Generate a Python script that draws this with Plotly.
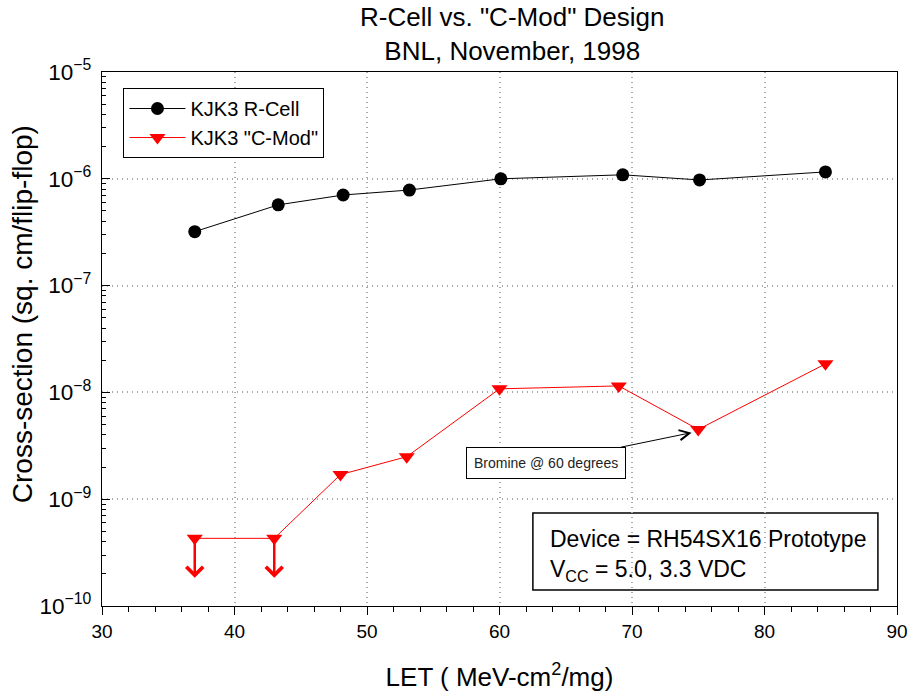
import numpy as np
import plotly.graph_objects as go

# Data
let_rcell = [37, 43.3, 48.2, 53.2, 60.1, 69.3, 75.1, 84.6]
xs_rcell = [3.2e-7, 5.7e-7, 7.05e-7, 7.85e-7, 1.0e-6, 1.09e-6, 9.75e-7, 1.16e-6]

let_cmod = [37, 43, 48, 53, 60, 69, 75, 84.6]
xs_cmod = [4.3e-10, 4.3e-10, 1.7e-9, 2.5e-9, 1.08e-8, 1.15e-8, 4.5e-9, 1.85e-8]

upper_limit_idx = [0, 1]   # C-Mod points that are upper limits
bromine_idx = 6            # Bromine @ 60 degrees point

x_ticks = [30, 40, 50, 60, 70, 80, 90]

FONT = "Liberation Sans, Arial, sans-serif"

fig = go.Figure()
fig.add_trace(go.Scatter(
    x=let_rcell, y=xs_rcell, mode="lines+markers", name="KJK3 R-Cell",
    line=dict(color="black", width=1),
    marker=dict(symbol="circle", size=13, color="black"),
))
fig.add_trace(go.Scatter(
    x=let_cmod, y=xs_cmod, mode="lines+markers", name='KJK3 "C-Mod"',
    line=dict(color="red", width=1),
    marker=dict(symbol="triangle-down", size=14, color="red"),
))

annotations = []
for i in upper_limit_idx:
    v = np.log10(xs_cmod[i])
    annotations.append(dict(
        x=let_cmod[i], y=v - 0.37, ax=let_cmod[i], ay=v,
        xref="x", yref="y", axref="x", ayref="y",
        text="", showarrow=True, arrowhead=4, arrowsize=1.3,
        arrowwidth=2.5, arrowcolor="red",
    ))

annotations.append(dict(
    x=let_cmod[bromine_idx] - 0.5, y=np.log10(xs_cmod[bromine_idx]) - 0.03,
    xref="x", yref="y", ax=-146, ay=30,
    text="Bromine @ 60 degrees", showarrow=True, arrowhead=5, arrowsize=2,
    arrowwidth=1, arrowcolor="black",
    font=dict(family=FONT, size=14, color="#222"),
    bordercolor="black", borderwidth=1, borderpad=7, bgcolor="white",
))

# Title as annotation (two lines)
annotations.append(dict(
    x=0.516, y=1.071, xref="paper", yref="paper", xanchor="center", yanchor="middle",
    text='R-Cell vs. "C-Mod" Design<br>BNL, November, 1998', showarrow=False,
    font=dict(family=FONT, size=26, color="black"),
))

# Y axis title as annotation
annotations.append(dict(
    x=-0.099, y=0.547, xref="paper", yref="paper", xanchor="center", yanchor="middle",
    text="Cross-section (sq. cm/flip-flop)", showarrow=False, textangle=-90,
    font=dict(family=FONT, size=28, color="black"),
))

# Device info box text
annotations.append(dict(
    x=0.561, y=0.0955, xref="paper", yref="paper", xanchor="left", yanchor="middle",
    text="Device = RH54SX16 Prototype<br>V<sub>CC</sub> = 5.0, 3.3 VDC",
    showarrow=False, align="left",
    font=dict(family=FONT, size=23, color="black"),
))

fig.add_shape(type="rect", xref="paper", yref="paper",
              x0=0.542, x1=0.976, y0=0.030, y1=0.174,
              line=dict(color="black", width=1.5), fillcolor="white", layer="below")

fig.update_layout(
    width=910, height=694,
    margin=dict(l=102, r=13, t=72, b=88),
    paper_bgcolor="white", plot_bgcolor="white",
    font=dict(family=FONT, color="black"),
    showlegend=True,
    legend=dict(x=0.027, y=0.97, xanchor="left", yanchor="top",
                bordercolor="black", borderwidth=1, bgcolor="white",
                font=dict(family=FONT, size=20, color="black"),
                itemwidth=56, tracegroupgap=2),
    annotations=annotations,
    xaxis=dict(
        range=[30, 90], tickvals=x_ticks, ticks="outside", ticklen=8,
        tickcolor="black", showline=True, linecolor="black", linewidth=1.2,
        mirror=True, showgrid=True, gridcolor="#aaaaaa", griddash="1px,4px", gridwidth=1.5,
        zeroline=False, tickfont=dict(family=FONT, size=19), automargin=False,
        minor=dict(dtick=2, ticks="outside", ticklen=5, tickcolor="black", showgrid=False),
        title=dict(text="LET ( MeV-cm<sup>2</sup>/mg)", font=dict(family=FONT, size=26), standoff=26),
    ),
    yaxis=dict(
        type="log", range=[-10, -5], dtick=1, exponentformat="power",
        ticks="inside", ticklen=8, tickcolor="black", ticklabelstandoff=6,
        showline=True, linecolor="black", linewidth=1.2, mirror=True,
        showgrid=True, gridcolor="#aaaaaa", griddash="1px,4px", gridwidth=1.5, zeroline=False,
        tickfont=dict(family=FONT, size=18), automargin=False,
        minor=dict(ticks="inside", ticklen=4, tickcolor="black", showgrid=False),
    ),
)

fig.write_html("out.html", config={"displayModeBar": False},
               post_script="document.body.style.margin='0px';")
